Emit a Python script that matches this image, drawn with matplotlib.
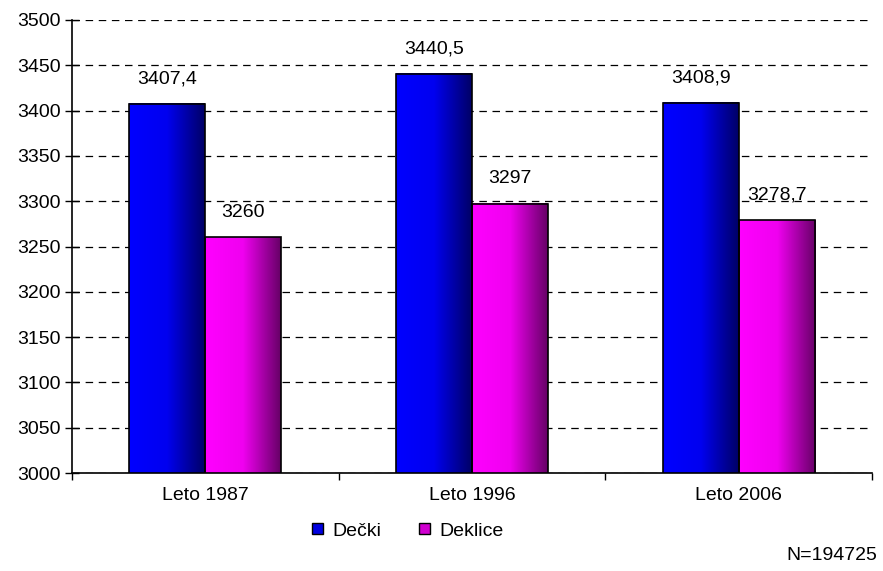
import numpy as np
import matplotlib.pyplot as plt
from matplotlib.colors import LinearSegmentedColormap
from matplotlib.patches import Patch

plt.rcParams['font.family'] = ['Liberation Sans', 'DejaVu Sans']

# Podatki
leta = ["Leto 1987", "Leto 1996", "Leto 2006"]
decki = [3407.4, 3440.5, 3408.9]
deklice = [3260, 3297, 3278.7]
opomba = "N=194725"

sirina = 0.285
cmap_modra = LinearSegmentedColormap.from_list("m", ["#0000FF", "#0000F0", "#000066"])
cmap_roza = LinearSegmentedColormap.from_list("r", ["#FF00FF", "#F000F0", "#660066"])

fig = plt.figure(figsize=(8.83, 5.71), dpi=100)
ax = fig.add_axes([72 / 883, 1 - 473 / 571, 800 / 883, 453 / 571])

x = np.arange(len(leta)) + 0.5
grad = np.linspace(0, 1, 256).reshape(1, -1)

for vrednosti, odmik, cmap in [(decki, -sirina / 2, cmap_modra), (deklice, sirina / 2, cmap_roza)]:
    bars = ax.bar(x + odmik, vrednosti, width=sirina, bottom=0, facecolor='none',
                  edgecolor='black', linewidth=1.2, zorder=3)
    for b, v in zip(bars, vrednosti):
        x0 = b.get_x()
        ax.imshow(grad, cmap=cmap, aspect='auto', extent=(x0, x0 + sirina, 3000, v),
                  zorder=2, interpolation='bilinear')
        ax.annotate(f"{v:g}".replace('.', ','), (b.get_x() + sirina / 2, v),
                    xytext=(0, 18), textcoords='offset points', ha='center', va='center',
                    fontsize=14)

ax.set_xlim(0, 3)
ax.set_ylim(3000, 3500)
ax.set_yticks(np.arange(3000, 3501, 50))
ax.set_xticks([0, 1, 2, 3])
ax.set_xticklabels([])
ax.set_xticks(x, minor=True)
ax.set_xticklabels(leta, minor=True, fontsize=14)
ax.tick_params(axis='x', which='minor', length=0, pad=10)
ax.tick_params(axis='x', which='major', direction='out', length=5, width=1)
ax.tick_params(axis='y', direction='inout', length=10, width=1, labelsize=14, pad=3)

ax.yaxis.grid(True, color='black', linewidth=0.9, linestyle=(0, (6, 4.5)), zorder=1)
ax.set_axisbelow(True)
for s in ['top', 'right']:
    ax.spines[s].set_visible(False)
ax.spines['left'].set_linewidth(1.2)
ax.spines['bottom'].set_linewidth(1.2)

rocke = [Patch(facecolor='#0000E0', edgecolor='black', label='Dečki'),
         Patch(facecolor='#D000D0', edgecolor='black', label='Deklice')]
fig.legend(handles=rocke, loc='center', bbox_to_anchor=(0.462, 1 - 531 / 571), ncol=2,
           frameon=False, fontsize=14, handlelength=0.55, handleheight=0.55,
           handletextpad=0.5, columnspacing=1.95)

fig.text(0.993, 1 - 556 / 571, opomba, ha='right', va='center', fontsize=14)

fig.savefig("out.png", dpi=100)
